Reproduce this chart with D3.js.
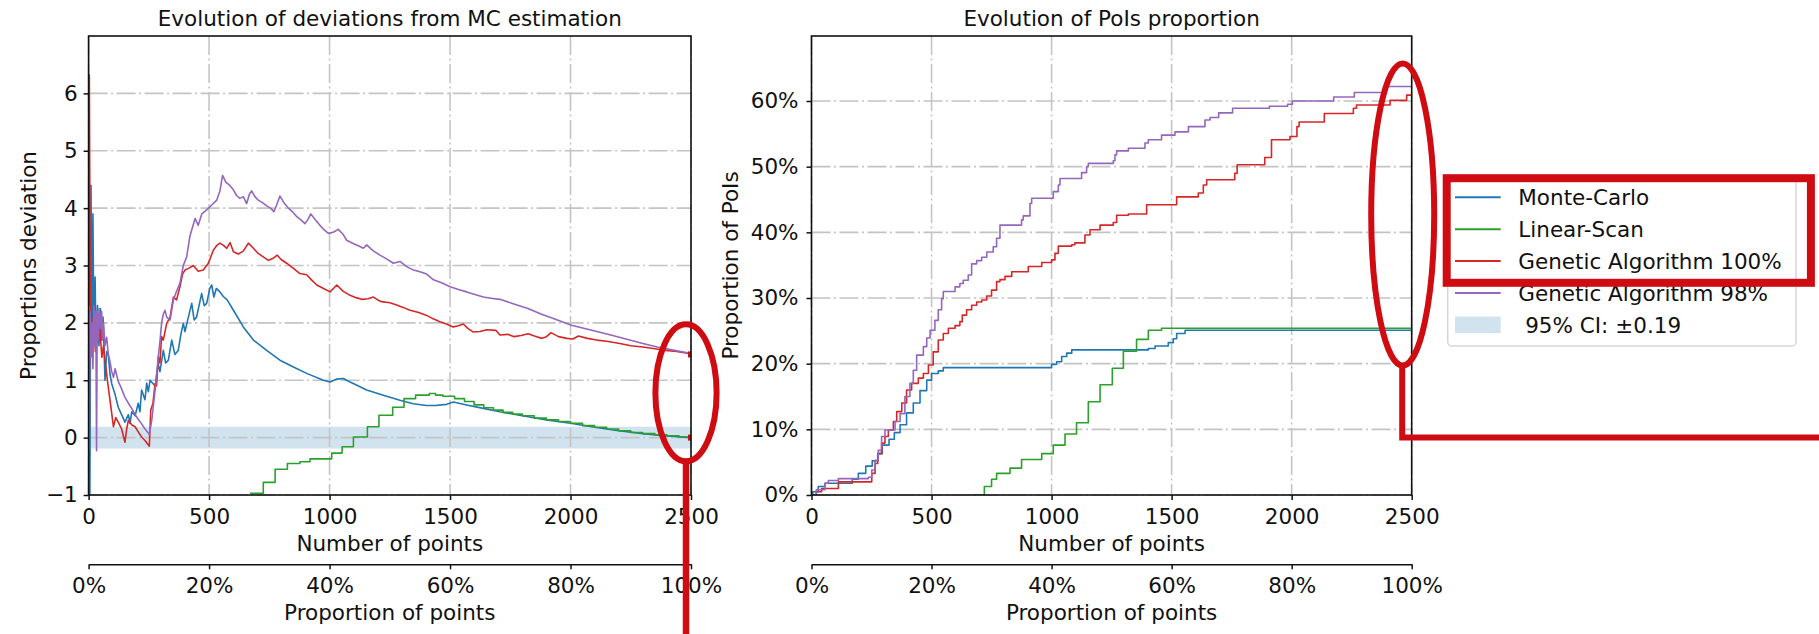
<!DOCTYPE html>
<html>
<head>
<meta charset="utf-8">
<script src="https://cdn.jsdelivr.net/npm/d3@7"></script>
<style>
  body { margin: 0; background: #fff; }
  svg { display: block; font-family: "DejaVu Sans", sans-serif; }
</style>
</head>
<body>
<svg id="chart" width="1819" height="634"></svg>
<script>
// ---- data ----
const nPoints = 2500
const xTicks = [0, 500, 1000, 1500, 2000, 2500]
const pctTicks = [0, 0.2, 0.4, 0.6, 0.8, 1]
const devTicks = [-1, 0, 1, 2, 3, 4, 5, 6]
const poiTicks = [0, 0.1, 0.2, 0.3, 0.4, 0.5, 0.6]
const ciHalf = 0.19

const seriesNames = ['Monte-Carlo', 'Linear-Scan', 'Genetic Algorithm 100%', 'Genetic Algorithm 98%']
const ciLabel = ' 95% CI: ±0.19'

// left: deviation from MC estimation  [number of points, deviation]
const devMC = [[0,0.6],[5,-1.3],[10,4.4],[14,1.9],[18,3.9],[22,1.6],[27,2.8],[31,1.5],[37,2.3],[43,1.6],[49,2.25],[54,1.7],[60,2.1],[68,1.0],[75,1.5],[82,1.44],[89,1.1],[96,0.94],[110,0.75],[123,0.53],[137,0.4],[151,0.27],[165,0.4],[172,0.25],[179,0.45],[193,0.38],[206,0.6],[213,0.45],[220,0.83],[234,0.66],[241,0.95],[248,0.8],[255,1.0],[276,0.9],[289,1.29],[296,1.15],[310,1.52],[320,1.3],[331,1.35],[345,1.7],[358,1.45],[372,1.52],[383,1.8],[393,1.99],[400,1.85],[414,2.1],[428,2.34],[438,2.05],[448,2.1],[469,2.51],[480,2.3],[490,2.34],[503,2.6],[511,2.66],[520,2.45],[530,2.6],[545,2.54],[559,2.46],[575,2.4],[601,2.22],[642,1.93],[684,1.7],[739,1.52],[794,1.35],[850,1.23],[905,1.12],[974,1.0],[1002,0.97],[1030,1.02],[1057,1.03],[1085,0.97],[1120,0.9],[1154,0.83],[1223,0.74],[1292,0.65],[1347,0.59],[1403,0.56],[1440,0.56],[1486,0.58],[1514,0.62],[1569,0.57],[1638,0.51],[1707,0.45],[1800,0.38],[1900,0.31],[2000,0.25],[2100,0.18],[2200,0.12],[2300,0.07],[2400,0.03],[2500,0.0]]
const devLS = [[670,-0.97],[725,-0.78],[774,-0.55],[825,-0.45],[877,-0.42],[919,-0.37],[1009,-0.27],[1052,-0.16],[1099,0.01],[1157,0.19],[1205,0.39],[1262,0.53],[1309,0.68],[1357,0.74],[1414,0.77],[1440,0.74],[1470,0.72],[1519,0.68],[1560,0.63],[1600,0.57],[1640,0.52],[1680,0.48],[1720,0.44],[1760,0.41],[1800,0.38],[1850,0.34],[1900,0.31],[1950,0.28],[2000,0.25],[2050,0.21],[2100,0.18],[2150,0.15],[2200,0.12],[2250,0.09],[2300,0.07],[2350,0.05],[2400,0.03],[2450,0.01],[2500,0.0]]
const devGA100 = [[0,2.3],[3,6.32],[7,2.2],[12,2.1],[17,1.5],[22,2.2],[28,1.5],[33,1.65],[40,1.9],[47,1.89],[55,1.4],[62,1.6],[68,1.35],[78,1.0],[89,0.65],[103,0.19],[113,0.35],[123,0.27],[137,0.15],[151,-0.08],[158,0.15],[165,0.3],[180,0.22],[193,0.19],[206,0.1],[220,0.01],[234,-0.05],[248,-0.13],[252,-0.15],[258,0.48],[267,0.6],[276,0.94],[282,0.9],[289,1.41],[296,1.3],[303,1.76],[310,1.7],[324,1.99],[338,2.1],[352,2.45],[365,2.4],[379,2.63],[390,2.85],[400,2.92],[415,2.95],[435,3.0],[455,2.9],[476,2.92],[497,3.04],[518,3.27],[532,3.35],[545,3.39],[560,3.35],[573,3.3],[587,3.4],[601,3.24],[621,3.2],[642,3.25],[663,3.39],[684,3.3],[704,3.21],[725,3.15],[746,3.09],[764,3.12],[783,3.18],[800,3.1],[822,3.04],[850,2.95],[877,2.86],[905,2.84],[925,2.75],[947,2.66],[975,2.6],[1002,2.54],[1016,2.6],[1030,2.66],[1057,2.55],[1085,2.48],[1110,2.44],[1133,2.41],[1160,2.42],[1182,2.45],[1200,2.4],[1216,2.37],[1250,2.35],[1279,2.31],[1305,2.27],[1334,2.22],[1370,2.18],[1403,2.13],[1430,2.07],[1458,2.02],[1485,1.98],[1513,1.93],[1535,1.95],[1555,1.98],[1575,1.9],[1597,1.84],[1625,1.85],[1652,1.88],[1690,1.87],[1707,1.79],[1740,1.8],[1766,1.76],[1795,1.78],[1824,1.81],[1850,1.77],[1881,1.73],[1900,1.76],[1919,1.83],[1950,1.76],[1985,1.73],[2010,1.72],[2033,1.77],[2070,1.73],[2109,1.7],[2150,1.68],[2205,1.64],[2250,1.6],[2300,1.58],[2350,1.55],[2395,1.52],[2440,1.5],[2485,1.47],[2500,1.45]]
const devGA98 = [[0,0.5],[3,-0.2],[6,2.2],[10,1.4],[14,2.0],[18,1.2],[22,2.3],[26,1.6],[30,2.2],[33,-0.23],[36,2.2],[40,1.7],[44,2.25],[50,1.9],[54,2.2],[58,1.7],[62,2.0],[68,1.6],[75,1.75],[82,1.45],[90,1.3],[96,1.15],[103,1.05],[110,1.2],[116,1.1],[123,0.98],[137,0.85],[151,0.7],[165,0.6],[180,0.5],[193,0.4],[206,0.32],[220,0.24],[234,0.15],[248,0.08],[252,0.05],[262,0.3],[276,0.83],[289,1.4],[296,1.67],[303,2.0],[310,2.15],[317,2.22],[324,2.1],[338,2.05],[352,2.4],[365,2.55],[379,2.69],[393,3.0],[407,3.15],[420,3.5],[430,3.65],[442,3.82],[455,3.7],[470,3.9],[490,3.97],[510,4.05],[532,4.14],[545,4.3],[556,4.57],[570,4.45],[585,4.4],[601,4.32],[614,4.22],[628,4.17],[642,4.2],[656,4.08],[668,4.25],[677,4.3],[690,4.2],[704,4.14],[720,4.1],[739,4.04],[755,4.0],[769,3.94],[780,4.05],[794,4.21],[810,4.1],[829,4.0],[850,3.92],[864,3.85],[880,3.8],[898,3.73],[910,3.8],[922,3.9],[940,3.8],[960,3.7],[978,3.62],[995,3.56],[1015,3.58],[1036,3.63],[1055,3.55],[1071,3.44],[1100,3.38],[1126,3.33],[1140,3.3],[1154,3.36],[1180,3.26],[1209,3.18],[1235,3.12],[1265,3.04],[1292,3.07],[1320,2.98],[1348,2.92],[1375,2.89],[1403,2.85],[1431,2.75],[1465,2.7],[1500,2.63],[1535,2.58],[1569,2.54],[1600,2.5],[1638,2.45],[1670,2.43],[1707,2.41],[1765,2.33],[1823,2.25],[1880,2.15],[1940,2.06],[2004,1.96],[2080,1.88],[2167,1.79],[2230,1.72],[2300,1.64],[2360,1.58],[2420,1.53],[2485,1.48],[2500,1.47]]
const devEndMarks = [[2500, 1.45], [2500, 0]]

// right: proportion of PoIs found (step changes)  [number of points, proportion]
const poiMC = [[0,0],[5,0.005],[28,0.013],[56,0.018],[170,0.024],[195,0.033],[226,0.044],[253,0.052],[276,0.063],[295,0.076],[323,0.085],[345,0.095],[369,0.107],[396,0.125],[424,0.14],[452,0.159],[480,0.175],[500,0.185],[528,0.189],[549,0.194],[1000,0.199],[1021,0.203],[1042,0.211],[1063,0.216],[1084,0.221],[1403,0.223],[1431,0.227],[1486,0.232],[1507,0.238],[1521,0.246],[1556,0.251],[2500,0.251]]
const poiLS = [[667,0],[720,0.013],[750,0.024],[771,0.033],[827,0.041],[875,0.054],[959,0.063],[1007,0.076],[1056,0.093],[1104,0.11],[1153,0.142],[1202,0.168],[1253,0.193],[1299,0.219],[1354,0.237],[1403,0.251],[1458,0.254],[2500,0.254]]
const poiGA100 = [[0,0],[20,0.005],[42,0.01],[112,0.02],[251,0.033],[265,0.048],[276,0.063],[292,0.079],[306,0.089],[320,0.099],[341,0.112],[355,0.127],[376,0.14],[396,0.16],[417,0.17],[445,0.178],[466,0.185],[487,0.198],[507,0.218],[528,0.236],[549,0.246],[570,0.254],[598,0.258],[618,0.264],[628,0.274],[646,0.282],[667,0.289],[688,0.294],[709,0.297],[730,0.303],[750,0.312],[771,0.325],[785,0.328],[806,0.333],[834,0.34],[903,0.348],[959,0.354],[1000,0.358],[1014,0.368],[1028,0.379],[1084,0.381],[1097,0.384],[1139,0.396],[1160,0.404],[1202,0.411],[1257,0.415],[1271,0.426],[1320,0.428],[1396,0.442],[1521,0.454],[1611,0.46],[1632,0.472],[1646,0.48],[1763,0.49],[1773,0.503],[1888,0.514],[1916,0.541],[1993,0.546],[2022,0.561],[2031,0.568],[2136,0.581],[2257,0.589],[2270,0.594],[2410,0.601],[2479,0.609],[2500,0.609]]
const poiGA98 = [[0,0],[20,0.008],[56,0.018],[70,0.022],[112,0.025],[237,0.027],[251,0.038],[265,0.053],[278,0.068],[292,0.089],[306,0.099],[348,0.112],[369,0.124],[389,0.15],[410,0.17],[424,0.19],[438,0.213],[466,0.226],[480,0.239],[494,0.251],[514,0.266],[528,0.282],[542,0.299],[549,0.31],[598,0.317],[618,0.322],[632,0.327],[653,0.335],[667,0.352],[688,0.357],[709,0.362],[730,0.37],[757,0.378],[771,0.391],[785,0.411],[875,0.419],[882,0.425],[910,0.444],[917,0.452],[1007,0.462],[1028,0.472],[1035,0.482],[1125,0.491],[1146,0.5],[1153,0.505],[1257,0.509],[1264,0.518],[1271,0.524],[1320,0.528],[1389,0.536],[1403,0.541],[1458,0.548],[1514,0.553],[1570,0.561],[1639,0.571],[1660,0.575],[1696,0.582],[1754,0.589],[1907,0.592],[1983,0.595],[2003,0.6],[2175,0.606],[2261,0.613],[2390,0.622],[2500,0.622]]

// ---- style ----
const colors = ['#1f77b4', '#2ca02c', '#d62728', '#9467bd']
const bandColor = '#d2e3f0'
const gridColor = '#c4c4c4'
const inkColor = '#111'
const markRed = '#d00c13'
const fontSize = 21.5

const svg = d3.select('#chart')
const plotTop = 36, plotBottom = 495, secAxisY = 564.3

function styleAxis(sel) {
  sel.attr('font-size', fontSize).attr('font-family', null)
  sel.selectAll('.tick line').attr('stroke', inkColor).attr('stroke-width', 1.5)
  sel.selectAll('.tick text').attr('fill', inkColor)
}

function drawPanel(p) {
  const x = d3.scaleLinear().domain([0, nPoints]).range([p.left, p.right])
  const y = d3.scaleLinear().domain(p.yDomain).range([plotBottom, plotTop])
  const g = svg.append('g').attr('class', 'panel-' + p.id)

  g.append('clipPath').attr('id', 'clip-' + p.id)
    .append('rect')
      .attr('x', p.left).attr('y', plotTop)
      .attr('width', p.right - p.left).attr('height', plotBottom - plotTop)

  // CI band sits under the grid
  if (p.band) {
    g.append('rect')
      .attr('x', x(0)).attr('width', x(nPoints) - x(0))
      .attr('y', y(p.band)).attr('height', y(-p.band) - y(p.band))
      .attr('fill', bandColor)
  }

  const grid = g.append('g').attr('stroke', gridColor).attr('stroke-width', 1.6)
  grid.selectAll('line.gx').data(xTicks).join('line')
    .attr('class', 'gx')
    .attr('x1', d => x(d)).attr('x2', d => x(d))
    .attr('y1', plotTop).attr('y2', plotBottom)
    .attr('stroke-dasharray', '19,3.5,2,3.5')
  grid.selectAll('line.gy').data(p.yTicks).join('line')
    .attr('class', 'gy')
    .attr('x1', p.left).attr('x2', p.right)
    .attr('y1', d => y(d)).attr('y2', d => y(d))
    .attr('stroke-dasharray', '19,3.5,2,3.5')

  const line = d3.line().x(d => x(d[0])).y(d => y(d[1]))
  const lines = g.append('g').attr('clip-path', `url(#clip-${p.id})`)
  lines.selectAll('path').data(p.series).join('path')
    .attr('d', (s, i) => line.curve(p.stepped[i] ? d3.curveStepAfter : d3.curveLinear)(s))
    .attr('fill', 'none')
    .attr('stroke', (_, i) => colors[i])
    .attr('stroke-width', 1.6)
    .attr('stroke-linejoin', 'round')

  if (p.marks) {
    lines.selectAll('rect.end').data(p.marks).join('rect')
      .attr('class', 'end')
      .attr('x', d => x(d[0]) - 3).attr('y', d => y(d[1]) - 3)
      .attr('width', 6).attr('height', 6)
      .attr('fill', markRed)
  }

  // axes
  g.append('g')
    .attr('transform', `translate(${p.left},0)`)
    .call(d3.axisLeft(y).tickValues(p.yTicks).tickFormat(p.yFormat).tickSize(5).tickPadding(p.yPad))
    .call(styleAxis)
    .call(a => a.select('.domain').remove())

  g.append('g')
    .attr('transform', `translate(0,${plotBottom})`)
    .call(d3.axisBottom(x).tickValues(xTicks).tickFormat(d3.format('d')).tickSize(5).tickPadding(8.5))
    .call(styleAxis)
    .call(a => a.select('.domain').remove())

  const xPct = d3.scaleLinear().domain([0, 1]).range([p.left, p.right])
  g.append('g')
    .attr('transform', `translate(0,${secAxisY})`)
    .call(d3.axisBottom(xPct).tickValues(pctTicks).tickFormat(d3.format('.0%')).tickSize(5).tickSizeOuter(0).tickPadding(8.5))
    .call(styleAxis)
    .call(a => a.select('.domain').attr('stroke', inkColor).attr('stroke-width', 1.6))

  g.append('rect')
    .attr('x', p.left).attr('y', plotTop)
    .attr('width', p.right - p.left).attr('height', plotBottom - plotTop)
    .attr('fill', 'none').attr('stroke', inkColor).attr('stroke-width', 1.6)

  const cx = (p.left + p.right) / 2
  const labels = g.append('g').attr('font-size', fontSize).attr('fill', inkColor).attr('text-anchor', 'middle')
  labels.append('text').attr('x', cx).attr('y', 26).text(p.title)
  labels.append('text').attr('x', cx).attr('y', 550.5).text('Number of points')
  labels.append('text').attr('x', cx).attr('y', 620).text('Proportion of points')
  labels.append('text')
    .attr('transform', `translate(${p.labelX},${(plotTop + plotBottom) / 2}) rotate(-90)`)
    .text(p.ylabel)

  return { x, y }
}

const left = drawPanel({
  id: 'dev', left: 88.6, right: 691,
  title: 'Evolution of deviations from MC estimation',
  ylabel: 'Proportions deviation', labelX: 35.5,
  yDomain: [-1, 7], yTicks: devTicks, yFormat: d3.format('d'), yPad: 6,
  band: ciHalf, stepped: [false, true, false, false],
  series: [devMC, devLS, devGA100, devGA98], marks: devEndMarks
})

const right = drawPanel({
  id: 'poi', left: 811.5, right: 1411.7,
  title: 'Evolution of PoIs proportion',
  ylabel: 'Proportion of PoIs', labelX: 738,
  yDomain: [0, 0.699], yTicks: poiTicks, yFormat: d3.format('.0%'), yPad: 8,
  stepped: [true, true, true, true],
  series: [poiMC, poiLS, poiGA100, poiGA98]
})

// legend
const legend = svg.append('g').attr('class', 'legend').attr('font-size', fontSize).attr('fill', inkColor)
legend.append('rect')
  .attr('x', 1447.7).attr('y', 176).attr('width', 348.3).attr('height', 170)
  .attr('rx', 4)
  .attr('fill', '#fff').attr('stroke', '#d6d6d6').attr('stroke-width', 1.5)

const rowY = i => 197.3 + i * 31.9
legend.selectAll('line.key').data(seriesNames).join('line')
  .attr('class', 'key')
  .attr('x1', 1455).attr('x2', 1500.7)
  .attr('y1', (_, i) => rowY(i)).attr('y2', (_, i) => rowY(i))
  .attr('stroke', (_, i) => colors[i]).attr('stroke-width', 2)
legend.selectAll('text.key').data(seriesNames).join('text')
  .attr('class', 'key')
  .attr('x', 1518.3).attr('y', (_, i) => rowY(i)).attr('dy', '0.36em')
  .text(d => d)
legend.append('rect')
  .attr('x', 1455).attr('y', rowY(4) - 8.3).attr('width', 45.7).attr('height', 16.6)
  .attr('fill', bandColor)
legend.append('text')
  .attr('x', 1518.3).attr('y', rowY(4)).attr('dy', '0.36em')
  .style('white-space', 'pre')
  .text(ciLabel)

// red highlight marks drawn over the figure
const red = svg.append('g').attr('fill', 'none').attr('stroke', markRed)
red.append('ellipse')
  .attr('cx', left.x(nPoints) - 5).attr('cy', left.y(0.78))
  .attr('rx', 30.6).attr('ry', 68.5).attr('stroke-width', 6)
red.append('line')
  .attr('x1', left.x(nPoints) - 5).attr('x2', left.x(nPoints) - 5)
  .attr('y1', left.y(0.78) + 68.5).attr('y2', 640)
  .attr('stroke-width', 6.5)
red.append('ellipse')
  .attr('cx', right.x(nPoints) - 9).attr('cy', right.y(0.427))
  .attr('rx', 31.5).attr('ry', 151).attr('stroke-width', 6)
red.append('polyline')
  .attr('points', [[right.x(nPoints) - 9.5, right.y(0.427) + 149], [right.x(nPoints) - 9.5, 437.5], [1830, 437.5]].join(' '))
  .attr('stroke-width', 6)
red.append('rect')
  .attr('x', 1446.7).attr('y', 178.2).attr('width', 364.2).attr('height', 104.6)
  .attr('stroke-width', 8)
</script>
</body>
</html>
